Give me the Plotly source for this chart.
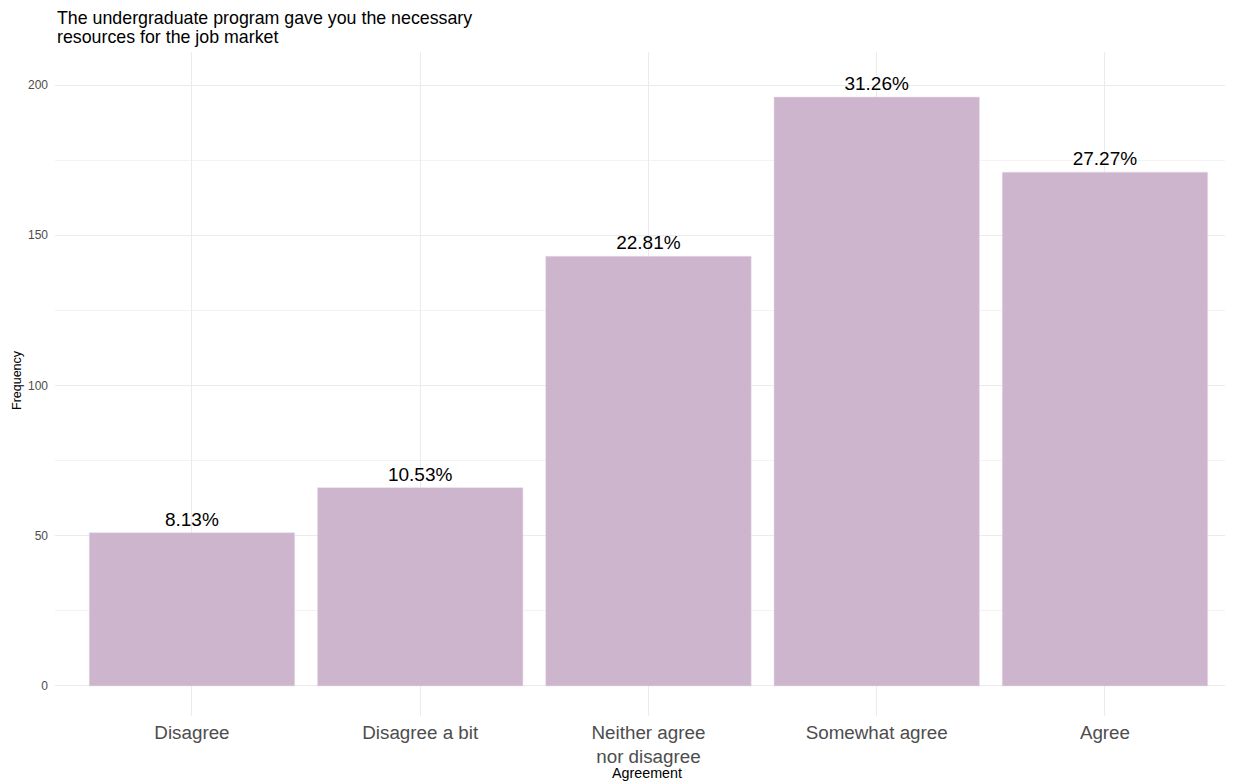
import plotly.graph_objects as go

categories = ["Disagree", "Disagree a bit", "Neither agree<br>nor disagree", "Somewhat agree", "Agree"]
frequency = [51, 66, 143, 196, 171]
pct_labels = ["8.13%", "10.53%", "22.81%", "31.26%", "27.27%"]
title_lines = ["The undergraduate program gave you the necessary", "resources for the job market"]

OFF = 8  # page body margin
W, H = 1233 - OFF, 782 - OFF
L, R, T, B = 55 - OFF, 0, 52 - OFF, 66
pw, ph = W - L - R, H - T - B


def px(x):  # screenshot x -> paper
    return (x - OFF - L) / pw


def py(y):  # screenshot y -> paper
    return (H - (y - OFF) - B) / ph


fig = go.Figure(go.Bar(
    x=categories, y=frequency, text=pct_labels,
    textposition="outside", cliponaxis=False,
    textfont=dict(size=19, color="black", family="Liberation Sans, Arial, sans-serif"),
    marker=dict(color="#CDB5CD", line=dict(color="#E6DAE6", width=0.5)),
    width=0.9,
))

annotations = [
    dict(text=t, x=px(55), y=py(yc), xref="paper", yref="paper", xanchor="left", yanchor="middle",
         align="left", showarrow=False, font=dict(size=17.8, color="black"))
    for t, yc in zip(title_lines, [18, 37])
]
annotations += [
    dict(text="Agreement", x=px(647), y=py(773), xref="paper", yref="paper", showarrow=False,
         xanchor="center", yanchor="middle", font=dict(size=14.3, color="black")),
    dict(text="Frequency", x=px(17), y=py(380), xref="paper", yref="paper", textangle=-90,
         xanchor="center", yanchor="middle", showarrow=False, font=dict(size=12.5, color="black")),
]

fig.update_layout(
    width=W, height=H,
    margin=dict(l=L, r=R, t=T, b=B),
    paper_bgcolor="white", plot_bgcolor="white",
    font=dict(family="Liberation Sans, Arial, sans-serif"),
    showlegend=False,
    xaxis=dict(range=[-0.6, -0.6 + pw / 228.25], showgrid=True, gridcolor="#EBEBEB",
               gridwidth=1, zeroline=False, showline=False, ticks="",
               tickfont=dict(size=18.8, color="#4D4D4D"), ticklabelstandoff=3),
    yaxis=dict(range=[-10, 211], tickvals=[0, 50, 100, 150, 200], showgrid=True,
               gridcolor="#EBEBEB", gridwidth=1, zeroline=False, showline=False, ticks="",
               tickfont=dict(size=12, color="#4D4D4D"), ticklabelstandoff=6,
               minor=dict(tickvals=[25, 75, 125, 175], showgrid=True, gridcolor="#F3F3F3", gridwidth=0.6)),
    annotations=annotations,
)

fig.write_html("out.html")
